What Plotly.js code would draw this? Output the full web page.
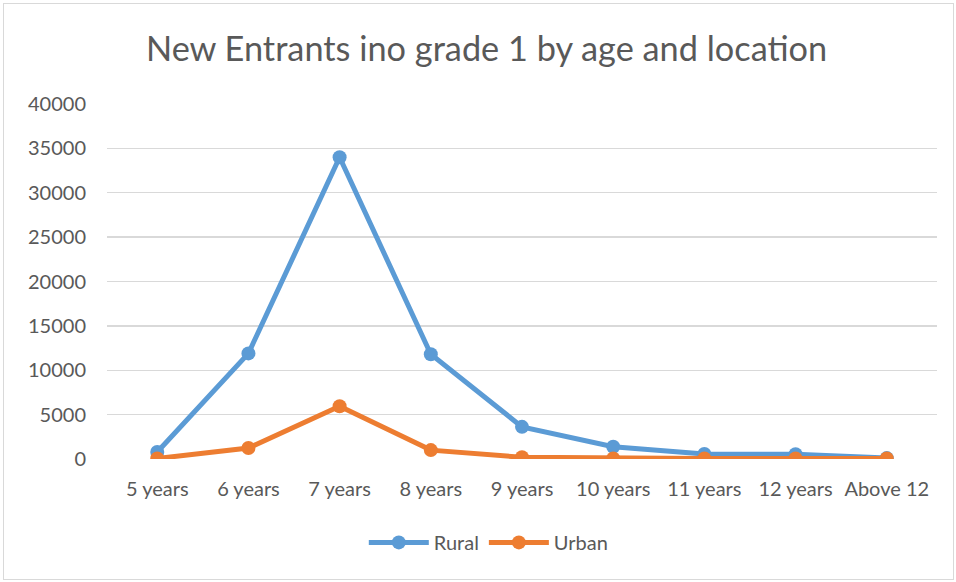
<!DOCTYPE html>
<html>
<head>
<meta charset="utf-8">
<script src="https://cdn.plot.ly/plotly-3.0.1.min.js"></script>
<style>
  body { margin: 0; background: #fff; }
  #wrap { position: relative; width: 956px; height: 582px; }
  #plot { width: 956px; height: 582px; }
  #frame { position: absolute; left: 3px; top: 3px; width: 949px; height: 575px;
           border: 1px solid #d9d9d9; pointer-events: none; }
</style>
</head>
<body>
<div id="wrap">
  <div id="plot"></div>
  <div id="frame"></div>
</div>
<script>
const ages = ["5 years", "6 years", "7 years", "8 years", "9 years", "10 years", "11 years", "12 years", "Above 12"];
const rural = [790, 11900, 34000, 11800, 3620, 1380, 560, 530, 100];
const urban = [60, 1240, 5950, 1000, 190, 60, 50, 50, 50];

const font = "Lato, 'Open Sans', sans-serif";

const traces = [
  { type: "scatter", mode: "lines+markers", x: ages, y: rural, name: "Rural",
    line: { color: "#5b9bd5", width: 5 }, marker: { color: "#5b9bd5", size: 14 } },
  { type: "scatter", mode: "lines+markers", x: ages, y: urban, name: "Urban",
    line: { color: "#ed7d31", width: 5 }, marker: { color: "#ed7d31", size: 14 } }
];

const layout = {
  width: 956, height: 582,
  margin: { l: 107, r: 19, t: 104, b: 123 },
  paper_bgcolor: "#fff", plot_bgcolor: "#fff",
  font: { family: font, color: "#595959", size: 20 },
  title: { text: "New Entrants ino grade 1 by age and location", font: { size: 34.3, color: "#595959", family: font },
           x: 0.509, xref: "container", xanchor: "center", y: 0.915, yref: "container", yanchor: "middle" },
  xaxis: { type: "category", showgrid: false, zeroline: false, showline: false, ticks: "",
           tickfont: { size: 20 }, ticklabelstandoff: 16 },
  yaxis: { range: [0, 40000], dtick: 5000, tickformat: "d", showgrid: true, gridcolor: "#d9d9d9", gridwidth: 1.3,
           zeroline: false, showline: false, ticks: "", tickfont: { size: 20 }, ticklabelstandoff: 20 },
  showlegend: true,
  legend: { orientation: "h", x: 0.46, xanchor: "center", y: -0.235, yanchor: "middle",
            font: { size: 20 }, itemwidth: 60 }
};

Plotly.newPlot("plot", traces, layout, { displayModeBar: false, staticPlot: true });
</script>
</body>
</html>
